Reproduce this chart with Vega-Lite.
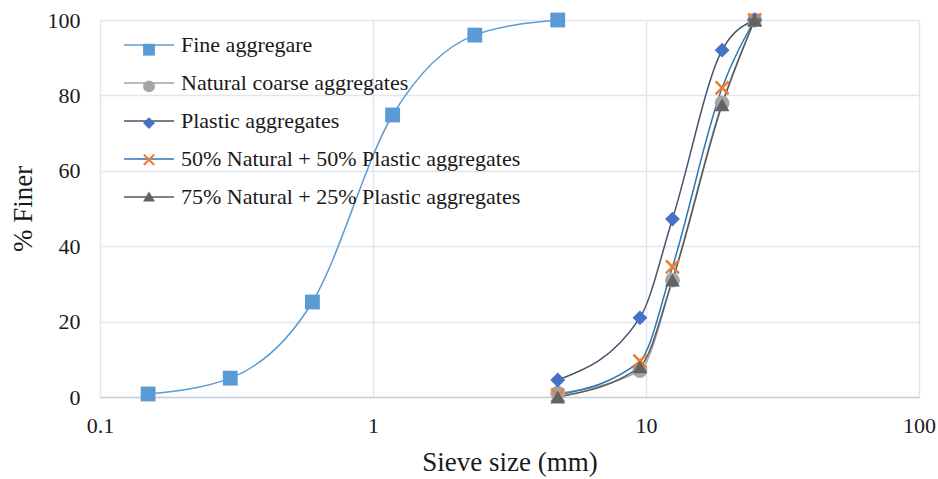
{
  "$schema": "https://vega.github.io/schema/vega-lite/v6.json",
  "width": 819,
  "height": 377,
  "autosize": "none",
  "padding": {"left": 100, "top": 20, "right": 19, "bottom": 82},
  "background": "white",
  "config": {
    "view": {"stroke": null},
    "font": "Liberation Serif, Times New Roman, DejaVu Serif, serif",
    "axis": {
      "labelFont": "Liberation Serif, Times New Roman, DejaVu Serif, serif",
      "titleFont": "Liberation Serif, Times New Roman, DejaVu Serif, serif",
      "labelFontSize": 22,
      "titleFontSize": 27,
      "titleFontWeight": "normal",
      "labelColor": "#1a1a1a",
      "titleColor": "#1a1a1a",
      "gridColor": "#E1E6EE",
      "gridWidth": 1.5,
      "ticks": false,
      "domain": false
    },
    "legend": {
      "labelFont": "Liberation Serif, Times New Roman, DejaVu Serif, serif",
      "labelFontSize": 22,
      "labelColor": "#1a1a1a",
      "labelLimit": 500,
      "padding": 0
    }
  },
  "data": {
    "values": [
      {"series": "Fine aggregare", "size": 0.15, "finer": 0.8},
      {"series": "Fine aggregare", "size": 0.3, "finer": 5},
      {"series": "Fine aggregare", "size": 0.6, "finer": 25.2},
      {"series": "Fine aggregare", "size": 1.18, "finer": 74.8},
      {"series": "Fine aggregare", "size": 2.36, "finer": 96},
      {"series": "Fine aggregare", "size": 4.75, "finer": 100},
      {"series": "Natural coarse aggregates", "size": 4.75, "finer": 1},
      {"series": "Natural coarse aggregates", "size": 9.5, "finer": 7},
      {"series": "Natural coarse aggregates", "size": 12.5, "finer": 31},
      {"series": "Natural coarse aggregates", "size": 19, "finer": 78},
      {"series": "Natural coarse aggregates", "size": 25, "finer": 100},
      {"series": "Plastic aggregates", "size": 4.75, "finer": 4.5},
      {"series": "Plastic aggregates", "size": 9.5, "finer": 21},
      {"series": "Plastic aggregates", "size": 12.5, "finer": 47.2},
      {"series": "Plastic aggregates", "size": 19, "finer": 92},
      {"series": "Plastic aggregates", "size": 25, "finer": 100},
      {"series": "50% Natural + 50% Plastic aggregates", "size": 4.75, "finer": 0.5},
      {"series": "50% Natural + 50% Plastic aggregates", "size": 9.5, "finer": 9.5},
      {"series": "50% Natural + 50% Plastic aggregates", "size": 12.5, "finer": 34.5},
      {"series": "50% Natural + 50% Plastic aggregates", "size": 19, "finer": 82},
      {"series": "50% Natural + 50% Plastic aggregates", "size": 25, "finer": 100},
      {"series": "75% Natural + 25% Plastic aggregates", "size": 4.75, "finer": 0},
      {"series": "75% Natural + 25% Plastic aggregates", "size": 9.5, "finer": 8},
      {"series": "75% Natural + 25% Plastic aggregates", "size": 12.5, "finer": 31},
      {"series": "75% Natural + 25% Plastic aggregates", "size": 19, "finer": 77.5},
      {"series": "75% Natural + 25% Plastic aggregates", "size": 25, "finer": 100}
    ]
  },
  "encoding": {
    "x": {
      "field": "size",
      "type": "quantitative",
      "scale": {"type": "log", "domain": [0.1, 100], "nice": false},
      "axis": {
        "values": [0.1, 1, 10, 100],
        "format": "~g",
        "title": "Sieve size (mm)",
        "labelPadding": 18,
        "titlePadding": 13,
        "labelFlush": false,
        "domain": true,
        "domainColor": "#C8D0DC",
        "domainWidth": 1.5
      }
    },
    "y": {
      "field": "finer",
      "type": "quantitative",
      "scale": {"domain": [0, 100], "nice": false},
      "axis": {
        "values": [0, 20, 40, 60, 80, 100],
        "title": "% Finer",
        "labelPadding": 20,
        "titlePadding": 10
      }
    }
  },
  "layer": [
    {
      "mark": {"type": "line", "interpolate": "monotone", "strokeWidth": 1.5},
      "encoding": {
        "stroke": {
          "field": "series",
          "type": "nominal",
          "scale": {
            "domain": ["Fine aggregare", "Natural coarse aggregates", "Plastic aggregates", "50% Natural + 50% Plastic aggregates", "75% Natural + 25% Plastic aggregates"],
            "range": ["#5B9BD5", "#A5A5A5", "#44546A", "#2E75B6", "#595959"]
          },
          "legend": {
            "title": null,
            "orient": "none",
            "legendX": 23,
            "legendY": -1,
            "symbolType": "stroke",
            "symbolSize": 2500,
            "symbolStrokeWidth": 1.5,
            "labelOffset": 6,
            "rowPadding": 1
          }
        }
      }
    },
    {
      "mark": {"type": "point", "filled": true, "opacity": 1, "size": 220, "strokeWidth": 0},
      "encoding": {
        "fill": {
          "field": "series",
          "type": "nominal",
          "sort": null,
          "scale": {
            "range": ["#5B9BD5", "#A5A5A5", "#4472C4", "#ED7D31", "#636363"]
          },
          "legend": {
            "title": null,
            "orient": "none",
            "legendX": 38,
            "legendY": 18.7,
            "symbolSize": 140,
            "symbolStrokeWidth": 0,
            "symbolOpacity": 1,
            "labelExpr": "''",
            "labelOffset": 0,
            "rowPadding": 14.7
          }
        },
        "shape": {
          "field": "series",
          "type": "nominal",
          "sort": null,
          "scale": {
            "range": ["square", "circle", "diamond", "M-1,-0.75L-0.75,-1L0,-0.25L0.75,-1L1,-0.75L0.25,0L1,0.75L0.75,1L0,0.25L-0.75,1L-1,0.75L-0.25,0Z", "triangle-up"]
          },
          "legend": {
            "title": null,
            "orient": "none",
            "legendX": 38,
            "legendY": 18.7,
            "symbolSize": 140,
            "symbolStrokeWidth": 0,
            "labelExpr": "''",
            "labelOffset": 0,
            "rowPadding": 14.7
          }
        }
      }
    }
  ]
}
